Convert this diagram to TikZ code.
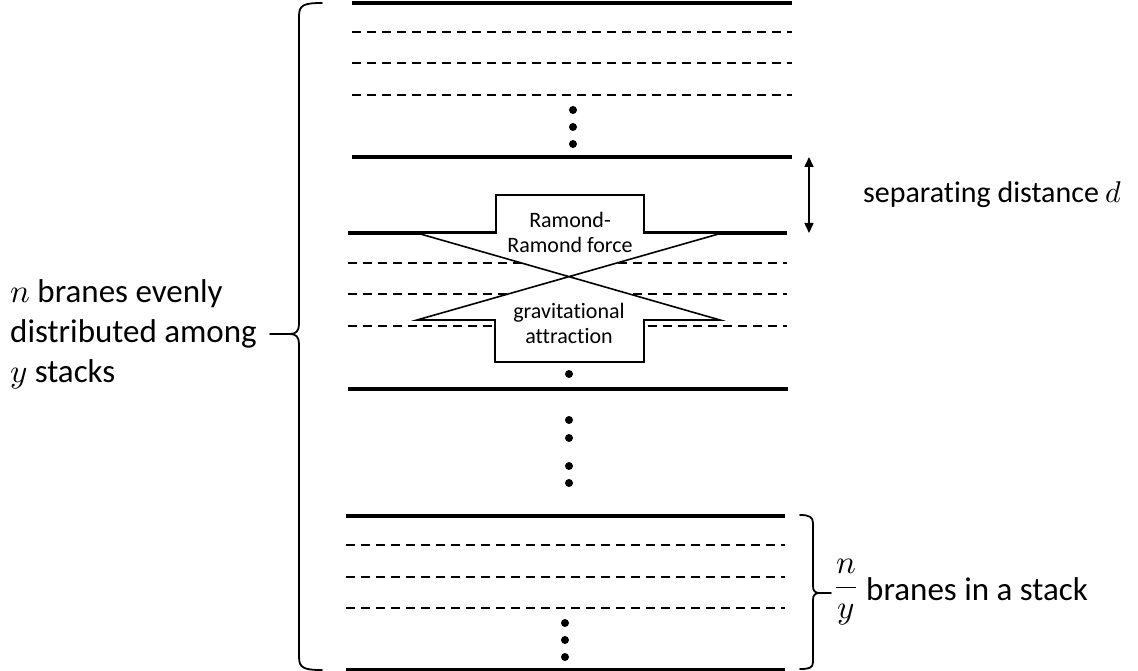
\documentclass[tikz,border=0pt]{standalone}
\usepackage{fontspec}
\usepackage{unicode-math}
\setmainfont{Carlito}[Ligatures=NoCommon]
\usetikzlibrary{arrows.meta}
\begin{document}
\begin{tikzpicture}[x=1pt,y=-1pt,
  brane/.style={line width=4pt},
  ghost/.style={line width=1.8pt, dash pattern=on 8.5pt off 6.5pt},
  dotmark/.style={circle, fill=black, inner sep=0pt, minimum size=8pt},
  forceshape/.style={draw, fill=white, line width=1.6pt, line join=miter},
  bracket/.style={line width=1.8pt, line join=round, line cap=round},
  distarrow/.style={line width=1.6pt, {Triangle[length=10pt,width=9pt]}-{Triangle[length=10pt,width=9pt]}},
  biglbl/.style={font=\fontsize{33}{40}\selectfont, inner sep=0pt, anchor=base west},
  midlbl/.style={font=\fontsize{30}{36}\selectfont, inner sep=0pt, anchor=base west},
  boxlbl/.style={font=\fontsize{22}{26}\selectfont, inner sep=0pt, anchor=base},
]
\useasboundingbox (0,0) rectangle (1138,671);

% first stack
\draw[brane] (352,3) -- (792,3);
\draw[ghost] (352,32) -- (792,32);
\draw[ghost] (352,63) -- (792,63);
\draw[ghost] (352,95) -- (792,95);
\node[dotmark] (t1) at (573,110) {};
\node[dotmark] (t2) at (573,127) {};
\node[dotmark] (t3) at (573,144) {};
\draw[brane] (352,157) -- (792,157);

% second stack
\draw[brane] (348,233) -- (787,233);
\draw[ghost] (348,263) -- (787,263);
\draw[ghost] (348,294) -- (787,294);
\draw[ghost] (348,326) -- (787,326);
\node[dotmark] (m0) at (569,374) {};
\draw[brane] (348,389) -- (788,389);

% dots between stacks
\node[dotmark] (m1) at (569,420) {};
\node[dotmark] (m2) at (569,438) {};
\node[dotmark] (m3) at (569,466) {};
\node[dotmark] (m4) at (569,483) {};

% last stack
\draw[brane] (346,516) -- (785,516);
\draw[ghost] (346,545) -- (785,545);
\draw[ghost] (346,577) -- (785,577);
\draw[ghost] (346,608) -- (785,608);
\node[dotmark] (b1) at (565,623) {};
\node[dotmark] (b2) at (565,640) {};
\node[dotmark] (b3) at (565,657) {};
\draw[brane] (346,670) -- (785,670);

% force shape
\draw[forceshape] (417,233) -- (720,320) -- (644,320) -- (644,362) -- (495,362)
  -- (495,320) -- (417,320) -- (722,233) -- (644,233) -- (644,195)
  -- (496,195) -- (496,233) -- cycle;
\node[boxlbl] (rr1) at (570,228) {Ramond-};
\node[boxlbl] (rr2) at (570,252) {Ramond force};
\node[boxlbl] (gr1) at (569,318) {gravitational};
\node[boxlbl] (gr2) at (569,343) {attraction};

% separating distance
\coordinate (dtop) at (809,157);
\coordinate (dbot) at (809,233);
\draw[distarrow] (dtop) -- (dbot);
\node[midlbl] (sep) at (863,203) {separating distance $d$};

% big left brace
\coordinate (lbtip) at (290,334);
\coordinate (lbend) at (270,334);
\draw[bracket] (322,3) .. controls (304,3) and (299,5) .. (299,16) -- (299,324)
  .. controls (299,331) and (296,334) .. (lbtip)
  .. controls (296,334) and (299,337) .. (299,344) -- (299,657)
  .. controls (299,668) and (304,670) .. (322,670);
\draw[bracket] (lbtip) -- (lbend);
\node[biglbl] (l1) at (10,302) {$n$ branes evenly};
\node[biglbl] (l2) at (10,342) {distributed among};
\node[biglbl] (l3) at (10,382) {$y$ stacks};

% small right brace
\coordinate (rbtip) at (820,593);
\coordinate (rbend) at (831,593);
\draw[bracket] (800,515) .. controls (809,515) and (813,517) .. (813,523) -- (813,586)
  .. controls (813,591) and (815,593) .. (rbtip)
  .. controls (815,593) and (813,595) .. (813,600) -- (813,662)
  .. controls (813,668) and (809,669) .. (800,669);
\draw[bracket] (rbtip) -- (rbend);
\node[font=\fontsize{33}{40}\selectfont, inner sep=0pt] (frac) at (846,592) {$\displaystyle\frac{n}{y}$};
\node[biglbl] (stack) at (866,600) {branes in a stack};
\end{tikzpicture}
\end{document}
